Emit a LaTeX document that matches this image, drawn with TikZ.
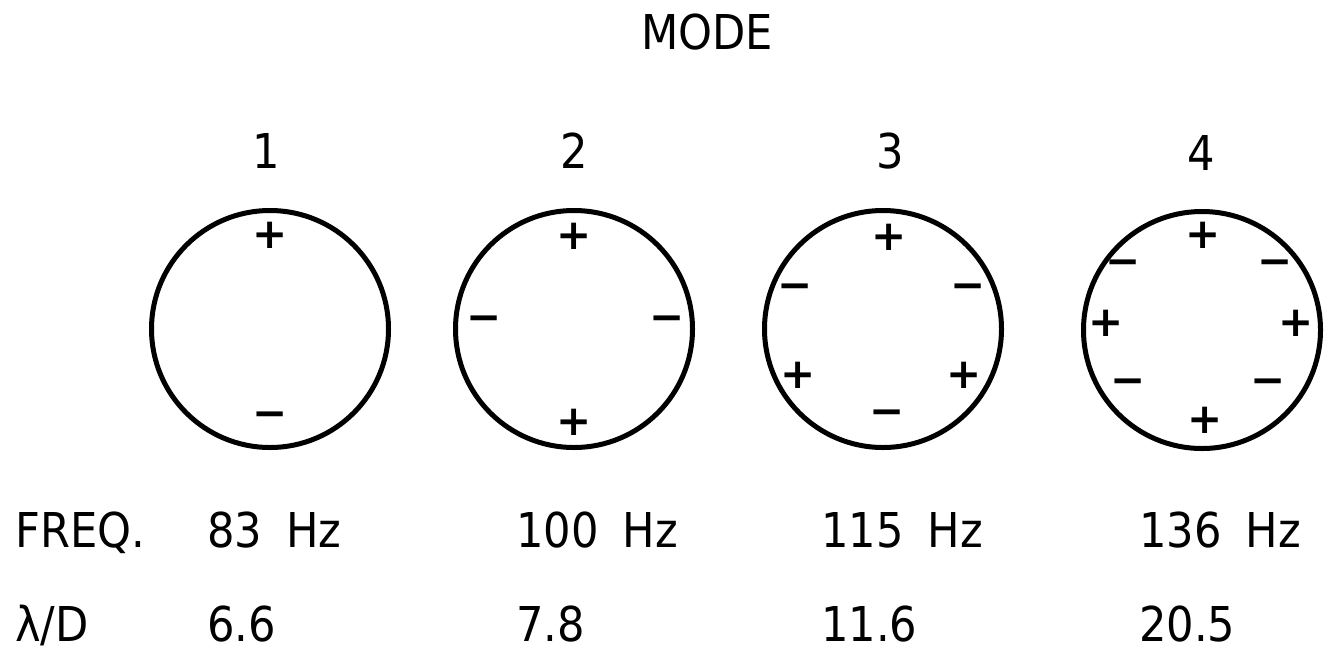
\documentclass[tikz,border=0pt]{standalone}
\usepackage{fontspec}
\setmainfont[FakeStretch=0.9]{DejaVu Sans}
\newfontfamily\signfont{DejaVu Sans}
\begin{document}
\begin{tikzpicture}[x=1pt,y=1pt,
  lbl/.style={inner sep=0pt, font=\fontsize{48}{50}\selectfont},
  rowtxt/.style={lbl, anchor=base west},
  ring/.style={circle, draw, line width=5pt, minimum size=237pt, inner sep=0pt},
  sgn/.style={inner sep=0pt, font=\signfont\bfseries\fontsize{42}{42}\selectfont}]
\useasboundingbox (0,0) rectangle (1333,-656);

% title and mode numbers
\node[lbl] (mode) at (707,-32) {MODE};
\node[lbl] (n1) at (266,-151) {1};
\node[lbl] (n2) at (574,-151) {2};
\node[lbl] (n3) at (890,-151) {3};
\node[lbl] (n4) at (1201,-153) {4};

% circles
\node[ring] (c1) at (270,-329) {};
\node[ring] (c2) at (574,-329) {};
\node[ring] (c3) at (883,-329) {};
\node[ring] (c4) at (1202,-330) {};

% mode 1 signs
\node[sgn] (s1a) at (270,-235) {+};
\node[sgn] (s1b) at (270,-420) {−};
% mode 2 signs
\node[sgn] (s2a) at (574,-236) {+};
\node[sgn] (s2b) at (484,-324) {−};
\node[sgn] (s2c) at (667,-324) {−};
\node[sgn] (s2d) at (574,-422) {+};
% mode 3 signs
\node[sgn] (s3a) at (889,-237) {+};
\node[sgn] (s3b) at (795,-292) {−};
\node[sgn] (s3c) at (968,-292) {−};
\node[sgn] (s3d) at (798,-375) {+};
\node[sgn] (s3e) at (964,-375) {+};
\node[sgn] (s3f) at (887,-418) {−};
% mode 4 signs
\node[sgn] (s4a) at (1203,-235) {+};
\node[sgn] (s4b) at (1123,-268) {−};
\node[sgn] (s4c) at (1275,-268) {−};
\node[sgn] (s4d) at (1106,-323) {+};
\node[sgn] (s4e) at (1296,-323) {+};
\node[sgn] (s4f) at (1128,-387) {−};
\node[sgn] (s4g) at (1268,-387) {−};
\node[sgn] (s4h) at (1205,-420) {+};

% frequency row
\node[rowtxt] (freq) at (15,-547) {FREQ.};
\node[rowtxt] (f1) at (207,-547) {83\hspace{0.5em}Hz};
\node[rowtxt] (f2) at (516,-547) {100\hspace{0.5em}Hz};
\node[rowtxt] (f3) at (821,-547) {115\hspace{0.5em}Hz};
\node[rowtxt] (f4) at (1139,-547) {136\hspace{0.5em}Hz};

% lambda/D row
\node[rowtxt] (ld) at (15,-641) {λ/D};
\node[rowtxt] (l1) at (207,-641) {6.6};
\node[rowtxt] (l2) at (516,-641) {7.8};
\node[rowtxt] (l3) at (821,-641) {11.6};
\node[rowtxt] (l4) at (1139,-641) {20.5};
\end{tikzpicture}
\end{document}
